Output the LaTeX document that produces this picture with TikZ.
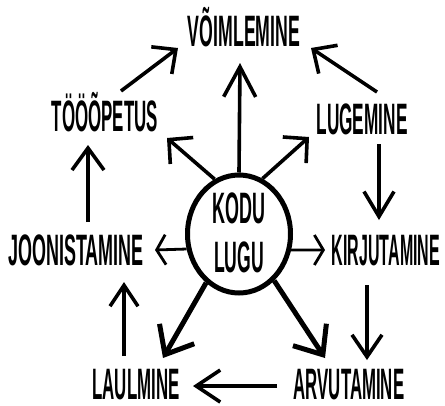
\documentclass[tikz,border=0pt]{standalone}
\usepackage{fontspec}
\setmainfont{Liberation Sans}
\usetikzlibrary{arrows.meta,shapes.geometric}
\newcommand\cnd[2][0.4]{\scalebox{#1}[1]{#2}}
\begin{document}
\begin{tikzpicture}[x=1pt,y=-1pt,
  lbl/.style={inner sep=0pt, anchor=base, font=\fontsize{44}{44}\selectfont\bfseries},
  arr/.style 2 args={line width=3.6pt, -{Straight Barb[length=#1pt,width=#2pt]}},
  thin arr/.style 2 args={line width=2.8pt, -{Straight Barb[length=#1pt,width=#2pt]}},
  thick arr/.style 2 args={line width=5pt, -{Straight Barb[length=#1pt,width=#2pt]}},
  hub/.style={draw, ellipse, line width=5pt, minimum width=103pt, minimum height=118pt, inner sep=0pt},
]
\fill[white] (0,0) rectangle (445,405);
\useasboundingbox (0,0) rectangle (445,405);

% labels
\node[lbl] (voim) at (244,46)  {\cnd[0.402]{VÕIMLEMINE}};
\node[lbl] (too)  at (105,131) {\cnd[0.384]{TÖÖÕPETUS}};
\node[lbl] (lug)  at (362,134) {\cnd[0.392]{LUGEMINE}};
\node[lbl] (joon) at (76,265)  {\cnd[0.408]{JOONISTAMINE}};
\node[lbl] (kirj) at (386,265) {\cnd[0.364]{KIRJUTAMINE}};
\node[lbl] (laul) at (136,399) {\cnd[0.383]{LAULMINE}};
\node[lbl] (arv)  at (349,399) {\cnd[0.382]{ARVUTAMINE}};

% hub
\node[hub] (kodu) at (239,234) {};
\node[lbl] (kodutxt) at (239,223) {\cnd[0.408]{KODU}};
\node[lbl] (lugutxt) at (239,272) {\cnd[0.40]{LUGU}};

% connector end points
\coordinate (tUp)   at (240,63);
\coordinate (tUL)   at (167,138);
\coordinate (tUR)   at (309,137);
\coordinate (sTV)   at (121,91);
\coordinate (tTV)   at (178,48);
\coordinate (sLV)   at (377,92);
\coordinate (tLV)   at (311,48);
\coordinate (sLK)   at (379,144);
\coordinate (tLK)   at (379,220);
\coordinate (sJT)   at (88,222);
\coordinate (tJT)   at (88,145);
\coordinate (tKJ)   at (155,250);
\coordinate (tKK)   at (325,250);
\coordinate (sKA)   at (367,285);
\coordinate (tKA)   at (367,360);
\coordinate (sLJ)   at (124,356);
\coordinate (tLJ)   at (124,282);
\coordinate (tKL)   at (163,358);
\coordinate (tKAr)  at (325,358);
\coordinate (sAL)   at (277,386);
\coordinate (tAL)   at (193,386);

% connectors
\draw[arr={30}{32}] (kodu.north) -- (tUp);
\draw[arr={17}{35}] (kodu.114) -- (tUL);
\draw[arr={17}{35}] (kodu.67) -- (tUR);
\draw[arr={18}{34}] (sTV) -- (tTV);
\draw[arr={18}{34}] (sLV) -- (tLV);
\draw[arr={25}{30}] (sLK) -- (tLK);
\draw[arr={22}{32}] (sJT) -- (tJT);
\draw[thin arr={9}{30}] (kodu.196) -- (tKJ);
\draw[thin arr={9}{30}] (kodu.343) -- (tKK);
\draw[arr={22}{30}] (sKA) -- (tKA);
\draw[arr={21}{28}] (sLJ) -- (tLJ);
\draw[thick arr={24}{40}] (kodu.236) -- (tKL);
\draw[thick arr={24}{40}] (kodu.307) -- (tKAr);
\draw[arr={24}{32}] (sAL) -- (tAL);
\end{tikzpicture}
\end{document}
